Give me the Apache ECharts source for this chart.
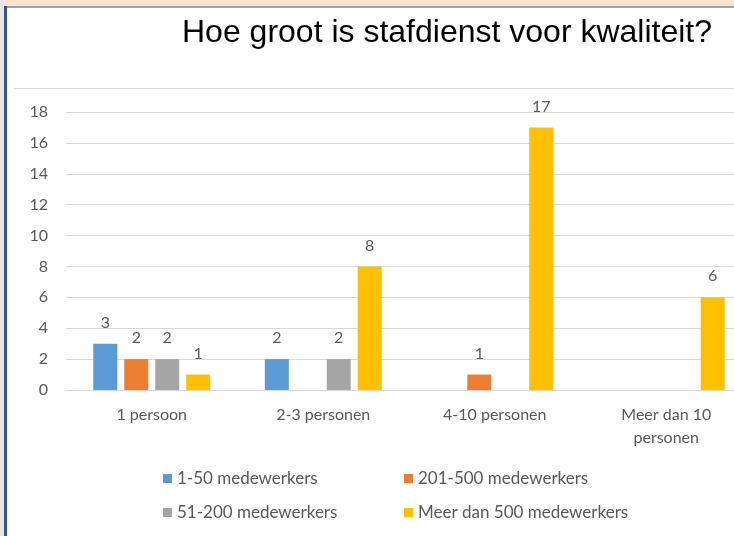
<!DOCTYPE html>
<html>
<head>
<meta charset="utf-8">
<script src="https://cdn.jsdelivr.net/npm/echarts@6/dist/echarts.min.js"></script>
<style>
  html, body { margin: 0; padding: 0; background: #fff; overflow: hidden; }
  /* chart runs a bit past the right edge, like the cropped slide */
  #chart { width: 752px; height: 536px; }
</style>
</head>
<body>
<div id="chart"></div>
<script>
const categories = ['1 persoon', '2-3 personen', '4-10 personen', 'Meer dan 10\npersonen']
const seriesNames = ['1-50 medewerkers', '201-500 medewerkers', '51-200 medewerkers', 'Meer dan 500 medewerkers']
const seriesColors = ['#5B9BD5', '#ED7D31', '#A5A5A5', '#FFC000']
const values = [
  [3, 2, null, null],
  [2, null, 1, null],
  [2, 2, null, null],
  [1, 8, 17, 6]
]
const yTicks = { min: 0, max: 18, interval: 2 }

// legend positions, Excel-style 2x2
const legendPos = [
  { left: 163, top: 470 },
  { left: 404, top: 470 },
  { left: 163, top: 504 },
  { left: 404, top: 504 }
]

const chart = echarts.init(document.getElementById('chart'))

const textGray = '#595959'

chart.setOption({
  animation: false,
  title: {
    text: 'Hoe groot is stafdienst voor kwaliteit?',
    left: 177,
    top: 12,
    textStyle: { fontFamily: 'Liberation Sans', fontSize: 32, fontWeight: 'normal', color: '#000' }
  },
  legend: seriesNames.map((name, i) => ({
    data: [name],
    left: legendPos[i].left,
    top: legendPos[i].top,
    padding: 0,
    icon: 'rect',
    itemWidth: 9,
    itemHeight: 9,
    textStyle: { fontFamily: 'Lato', fontSize: 17, color: textGray }
  })),
  grid: { left: 66, top: 112, width: 686, height: 278 },
  xAxis: {
    type: 'category',
    data: categories,
    axisLine: { lineStyle: { color: '#d9d9d9' } },
    axisTick: { show: false },
    axisLabel: { color: textGray, fontFamily: 'Lato', fontSize: 16, margin: 13, lineHeight: 23 }
  },
  yAxis: {
    type: 'value',
    min: yTicks.min,
    max: yTicks.max,
    interval: yTicks.interval,
    axisLabel: { color: textGray, fontFamily: 'Lato', fontSize: 16, margin: 18 },
    splitLine: { lineStyle: { color: '#d9d9d9', width: 1 } }
  },
  series: seriesNames.map((name, i) => ({
    name,
    type: 'bar',
    data: values[i],
    barWidth: 24,
    barGap: '29%',
    itemStyle: { color: seriesColors[i] },
    label: {
      show: true,
      position: 'top',
      distance: 13,
      color: textGray,
      fontFamily: 'Lato',
      fontSize: 16
    }
  })),
  graphic: [
    { type: 'rect', shape: { x: 0, y: 0, width: 752, height: 6 }, style: { fill: '#FCE4CF' }, silent: true },
    { type: 'rect', shape: { x: 0, y: 0, width: 4, height: 536 }, style: { fill: '#E7E6E6' }, silent: true },
    { type: 'rect', shape: { x: 4, y: 6, width: 748, height: 2 }, style: { fill: '#8FA3C4' }, silent: true },
    { type: 'rect', shape: { x: 4, y: 6, width: 3, height: 530 }, style: { fill: '#2F5597' }, silent: true },
    { type: 'rect', shape: { x: 14, y: 88, width: 738, height: 1 }, style: { fill: '#dcdcdc' }, silent: true }
  ]
})
</script>
</body>
</html>
